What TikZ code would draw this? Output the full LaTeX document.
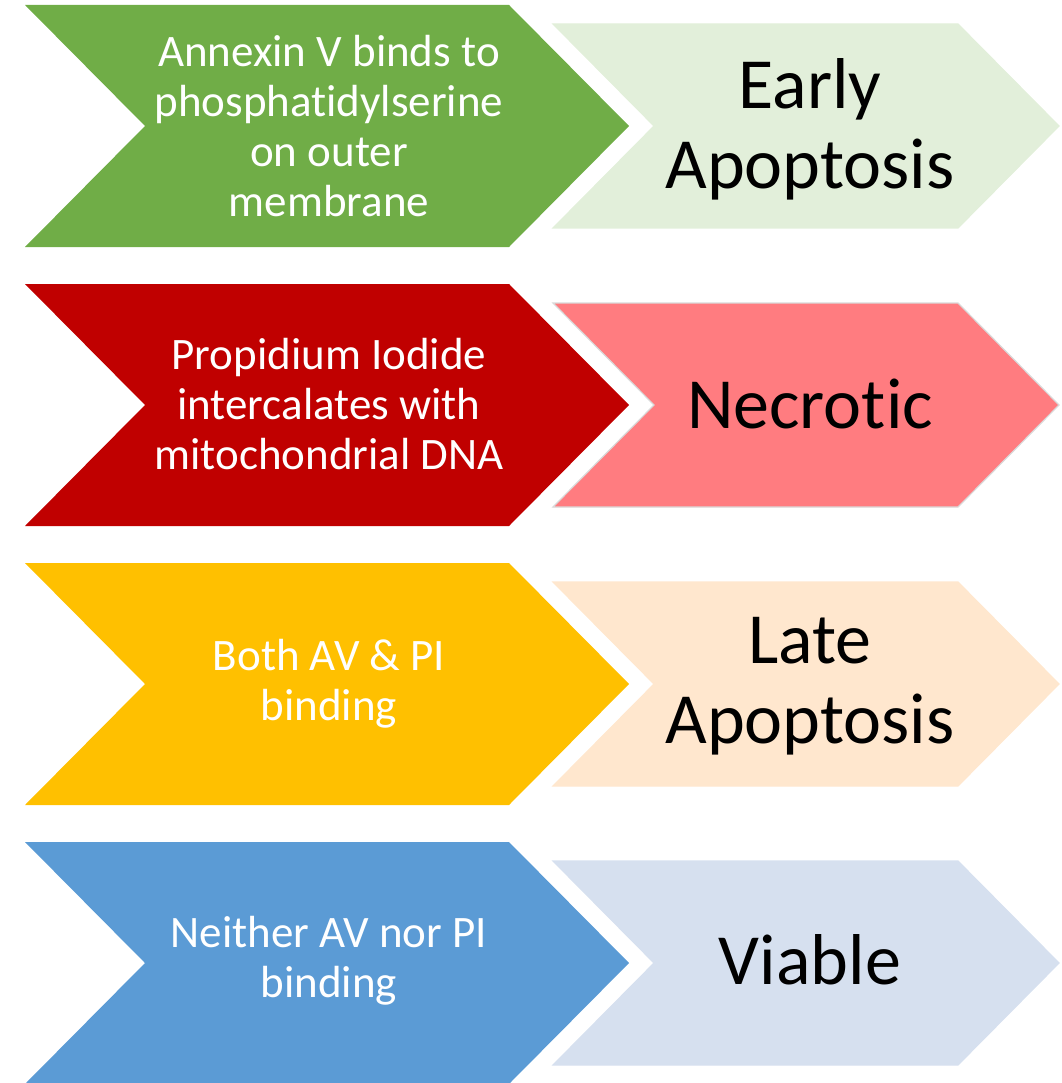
\documentclass[tikz,border=0pt]{standalone}
\usepackage{fontspec}
\setmainfont{Carlito}[Ligatures=NoCommon]
\definecolor{cgreen}{HTML}{70AD47}
\definecolor{cred}{HTML}{C00000}
\definecolor{cyellow}{HTML}{FFC000}
\definecolor{cblue}{HTML}{5B9BD5}
\definecolor{lgreen}{HTML}{E2EFDA}
\definecolor{lred}{HTML}{FF7C80}
\definecolor{lyellow}{HTML}{FFE7CE}
\definecolor{lblue}{HTML}{D6E0EF}
\tikzset{
  lefttext/.style={text=white, align=center, font=\fontsize{45}{50}\selectfont, inner sep=0pt},
  righttext/.style={text=black, align=center, font=\fontsize{72}{80}\selectfont, inner sep=0pt},
}
\newcommand{\leftchev}[2]{\fill[#1] (25,#2-121) -- (509,#2-121) -- (629,#2) -- (509,#2+121) -- (25,#2+121) -- (145,#2) -- cycle;}
\newcommand{\rightchev}[3]{\filldraw[fill=#1,draw=#3,line width=1.2pt] (553,#2-102) -- (958,#2-102) -- (1059,#2) -- (958,#2+102) -- (553,#2+102) -- (654,#2) -- cycle;}
\begin{document}
\begin{tikzpicture}[x=1pt,y=-1pt]
\useasboundingbox (0,0) rectangle (1061,1083);
\leftchev{cgreen}{126}
\rightchev{lgreen}{126}{lgreen}
\leftchev{cred}{405}
\rightchev{lred}{405}{black!15}
\leftchev{cyellow}{684}
\rightchev{lyellow}{684}{lyellow}
\leftchev{cblue}{963}
\rightchev{lblue}{963}{lblue}
\node[lefttext] (l1) at (329,126) {Annexin V binds to\\phosphatidylserine\\on outer\\membrane};
\node[lefttext] (l2) at (329,404) {Propidium Iodide\\intercalates with\\mitochondrial DNA};
\node[lefttext] (l3) at (329,684) {Both AV \& PI\\binding};
\node[lefttext] (l4) at (329,961) {Neither AV nor PI\\binding};
\node[righttext] (r1) at (810,129) {Early\\Apoptosis};
\node[righttext] (r2) at (810,404) {Necrotic};
\node[righttext] (r3) at (810,686) {Late\\Apoptosis};
\node[righttext] (r4) at (810,960) {Viable};
\end{tikzpicture}
\end{document}
